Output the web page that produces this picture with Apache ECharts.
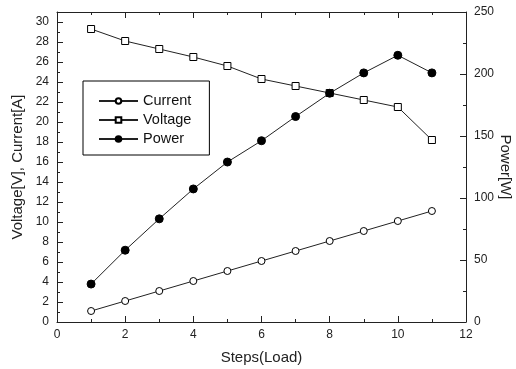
<!DOCTYPE html>
<html>
<head>
<meta charset="utf-8">
<script src="https://cdn.jsdelivr.net/npm/echarts@6/dist/echarts.min.js"></script>
<style>html,body{margin:0;padding:0;background:#fff}#c{width:516px;height:369px}</style>
</head>
<body>
<div id="c"></div>
<script>
var steps = [1, 2, 3, 4, 5, 6, 7, 8, 9, 10, 11];
var current = [1.1, 2.1, 3.1, 4.1, 5.1, 6.1, 7.1, 8.1, 9.1, 10.1, 11.1];
var voltage = [29.3, 28.1, 27.3, 26.5, 25.6, 24.3, 23.6, 22.9, 22.2, 21.5, 18.2];
var power = [30.6, 57.9, 83.2, 107.3, 129, 146.2, 165.7, 184.5, 200.9, 215.1, 200.9];
var leftTicks = [0, 2, 4, 6, 8, 10, 12, 14, 16, 18, 20, 22, 24, 26, 28, 30];
var rightTicks = [0, 50, 100, 150, 200, 250];
var xTicks = [0, 2, 4, 6, 8, 10, 12];

function pairs(xs, ys) { return xs.map(function (x, i) { return [x, ys[i]]; }); }

var FONT = 'Liberation Sans';
var axisColor = '#222';
function baseAxis(extra) {
  var a = {
    type: 'value',
    nameMoveOverlap: false,
    axisLine: { show: true, onZero: false, lineStyle: { color: axisColor, width: 1 } },
    axisTick: { show: true, inside: true, length: 6, lineStyle: { color: axisColor } },
    minorTick: { show: true, splitNumber: 2, length: 3, lineStyle: { color: axisColor } },
    splitLine: { show: false },
    axisLabel: { color: '#222', fontFamily: FONT, fontSize: 12 },
    nameTextStyle: { color: '#222', fontFamily: FONT, fontSize: 15 }
  };
  for (var k in extra) a[k] = extra[k];
  return a;
}

var chart = echarts.init(document.getElementById('c'), null, { renderer: 'canvas' });
chart.setOption({
  animation: false,
  backgroundColor: '#fff',
  grid: { left: 57, right: 50, top: 12, bottom: 47, containLabel: false, outerBoundsMode: 'none' },
  legend: {
    orient: 'vertical',
    left: 83, top: 81,
    padding: [12, 18, 8, 15],
    itemGap: 3,
    itemWidth: 39,
    itemHeight: 7,
    borderColor: '#000',
    borderWidth: 1,
    backgroundColor: '#fff',
    textStyle: { color: '#111', fontFamily: FONT, fontSize: 14.5, lineHeight: 16 },
    data: ['Current', 'Voltage', 'Power']
  },
  xAxis: [
    baseAxis({ position: 'bottom', min: xTicks[0], max: xTicks[xTicks.length - 1], interval: 2,
      name: 'Steps(Load)', nameLocation: 'middle', nameGap: 28,
      axisLabel: { color: '#222', fontFamily: FONT, fontSize: 12, margin: 7 } }),
    baseAxis({ position: 'top', min: xTicks[0], max: xTicks[xTicks.length - 1], interval: 2,
      axisLabel: { show: false } })
  ],
  yAxis: [
    baseAxis({ position: 'left', min: 0, max: 31, interval: 2,
      name: 'Voltage[V], Current[A]', nameLocation: 'middle', nameRotate: 90, nameGap: 32,
      axisLabel: { color: '#222', fontFamily: FONT, fontSize: 12, margin: 8, showMaxLabel: false,
        formatter: function (v) { return leftTicks.indexOf(v) >= 0 ? String(v) : ''; } } }),
    baseAxis({ position: 'right', min: rightTicks[0], max: rightTicks[rightTicks.length - 1], interval: 50,
      name: 'Power[W]', nameLocation: 'middle', nameRotate: -90, nameGap: 32,
      axisLabel: { color: '#222', fontFamily: FONT, fontSize: 12, margin: 8 } })
  ],
  series: [
    { name: 'Current', type: 'line', xAxisIndex: 0, yAxisIndex: 0, data: pairs(steps, current),
      symbol: 'circle', symbolSize: 7,
      lineStyle: { color: '#222', width: 1 },
      itemStyle: { color: '#fff', borderColor: '#000', borderWidth: 1 } },
    { name: 'Voltage', type: 'line', xAxisIndex: 0, yAxisIndex: 0, data: pairs(steps, voltage),
      symbol: 'rect', symbolSize: 7,
      lineStyle: { color: '#222', width: 1 },
      itemStyle: { color: '#fff', borderColor: '#000', borderWidth: 1 } },
    { name: 'Power', type: 'line', xAxisIndex: 0, yAxisIndex: 1, data: pairs(steps, power),
      symbol: 'circle', symbolSize: 8,
      lineStyle: { color: '#222', width: 1 },
      itemStyle: { color: '#000', borderColor: '#000', borderWidth: 1 } }
  ]
});
</script>
</body>
</html>
